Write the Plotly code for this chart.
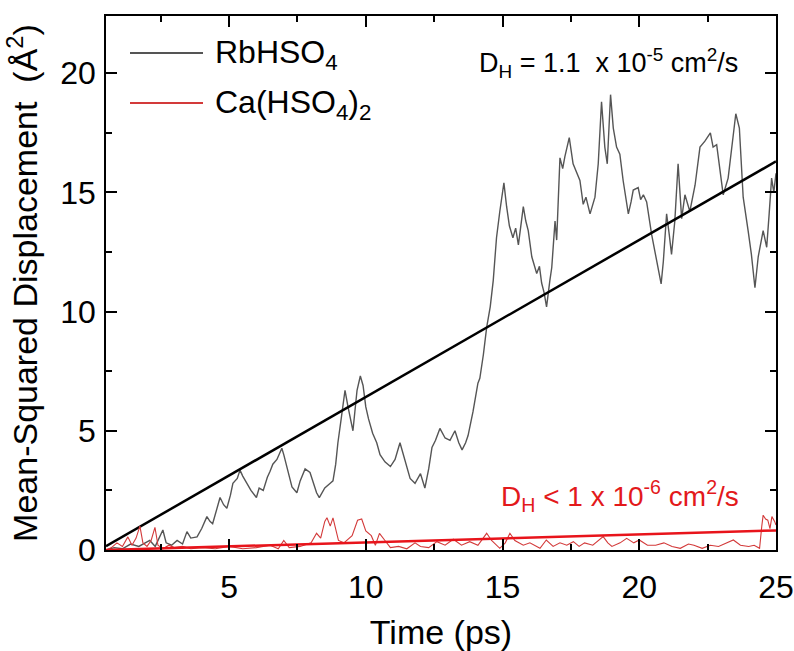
import plotly.graph_objects as go

# RbHSO4 mean-squared displacement
rb_t = [0.5, 0.8, 1.1, 1.4, 1.7, 2.0, 2.1, 2.3, 2.5, 2.58, 2.7, 2.9, 3.1, 3.3, 3.46, 3.6, 3.83, 4.0, 4.19, 4.3,
        4.4, 4.55, 4.67, 4.8, 4.92, 5.05, 5.14, 5.3, 5.4, 5.5, 5.66, 5.8, 6.0, 6.1, 6.25, 6.4, 6.5, 6.6, 6.75, 6.93,
        7.0, 7.1, 7.2, 7.3, 7.48, 7.6, 7.78, 7.96, 8.1, 8.2, 8.3, 8.5, 8.7, 8.8, 8.9, 8.98, 9.1, 9.24, 9.35, 9.53,
        9.6, 9.68, 9.8, 9.9, 10.0, 10.1, 10.25, 10.4, 10.52, 10.7, 10.9, 11.07, 11.25, 11.4, 11.62, 11.8, 12.0, 12.16, 12.3, 12.42,
        12.55, 12.71, 12.9, 13.08, 13.26, 13.4, 13.52, 13.65, 13.74, 13.92, 14.0, 14.1, 14.17, 14.3, 14.42, 14.55, 14.66, 14.78, 14.9, 15.05,
        15.15, 15.25, 15.38, 15.48, 15.58, 15.68, 15.76, 15.85, 15.94, 16.07, 16.15, 16.25, 16.35, 16.43, 16.52, 16.61, 16.73, 16.8, 16.92, 16.98,
        17.1, 17.2, 17.28, 17.44, 17.58, 17.7, 17.83, 17.95, 18.05, 18.2, 18.38, 18.5, 18.62, 18.74, 18.83, 18.95, 19.05, 19.17, 19.29, 19.41,
        19.6, 19.7, 19.78, 19.96, 20.05, 20.15, 20.27, 20.45, 20.57, 20.7, 20.8, 20.88, 21.0, 21.1, 21.18, 21.3, 21.42, 21.55, 21.67, 21.85,
        22.04, 22.22, 22.4, 22.6, 22.7, 22.83, 22.95, 23.07, 23.25, 23.38, 23.53, 23.66, 23.8, 23.98, 24.1, 24.23, 24.35, 24.53, 24.66, 24.75,
        24.84, 24.92, 25.0]
rb_msd = [0.0, 0.1, 0.05, 0.25, 0.15, 0.35, 0.4, 0.15, 0.6, 0.84, 0.3, 0.2, 0.4, 0.25, 0.77, 0.5, 0.55, 0.9, 1.4, 1.2,
          1.1, 1.7, 2.2, 1.9, 1.75, 2.3, 2.8, 3.0, 3.35, 3.1, 2.8, 2.5, 2.2, 2.6, 2.5, 3.05, 3.3, 3.6, 3.8, 4.27,
          4.0, 3.6, 3.1, 2.65, 2.4, 2.9, 3.4, 3.25, 2.8, 2.4, 2.2, 2.6, 2.8, 2.9, 3.6, 4.5, 5.5, 6.7, 6.0, 5.0,
          5.8, 6.7, 7.3, 6.9, 6.0, 5.5, 4.9, 4.5, 4.0, 3.7, 3.5, 3.8, 4.5, 3.9, 3.0, 2.8, 3.2, 2.6, 3.4, 4.3,
          4.6, 5.1, 4.7, 4.6, 5.0, 4.5, 4.2, 4.5, 4.8, 5.8, 6.3, 7.0, 7.2, 8.2, 9.34, 10.2, 11.3, 13.1, 14.2, 15.4,
          14.4, 13.6, 13.1, 13.5, 12.8, 13.6, 14.4, 13.8, 13.4, 12.3, 12.0, 11.6, 11.9, 11.2, 10.8, 10.2, 11.3, 11.85, 13.8, 13.0,
          16.45, 16.0, 16.5, 17.3, 16.2, 15.9, 15.5, 14.5, 14.8, 14.1, 14.8, 16.2, 18.8, 16.9, 16.2, 19.1, 17.7, 16.9, 16.6, 15.5,
          14.1, 14.6, 15.1, 15.2, 14.7, 14.9, 14.6, 13.25, 12.55, 11.85, 11.16, 12.1, 14.1, 13.2, 12.4, 13.8, 16.2, 13.9, 14.9, 14.2,
          15.3, 16.9, 17.15, 17.5, 16.9, 17.0, 16.0, 14.9, 15.6, 16.9, 18.3, 17.7, 14.8, 13.4, 12.4, 11.0, 12.3, 13.4, 12.7, 14.1,
          15.6, 15.0, 15.8]

# Ca(HSO4)2 mean-squared displacement
ca_t = [0.5, 0.7, 0.9, 1.1, 1.3, 1.45, 1.6, 1.74, 1.85, 2.0, 2.15, 2.29, 2.4, 2.58, 2.8, 3.0, 3.3, 3.6, 4.0, 4.5,
        5.0, 5.5, 6.0, 6.5, 6.8, 7.0, 7.2, 7.6, 8.0, 8.2, 8.35, 8.5, 8.58, 8.7, 8.8, 8.9, 9.0, 9.2, 9.5, 9.7,
        9.85, 10.0, 10.2, 10.35, 10.5, 10.7, 10.9, 11.2, 11.5, 11.8, 12.0, 12.3, 12.6, 12.9, 13.2, 13.5, 13.8, 14.1, 14.42, 14.6,
        14.9, 15.1, 15.27, 15.45, 15.76, 16.0, 16.37, 16.6, 16.85, 17.1, 17.35, 17.59, 17.8, 18.0, 18.3, 18.68, 18.85, 19.0, 19.3, 19.54,
        19.8, 20.0, 20.3, 20.6, 20.9, 21.2, 21.5, 21.8, 22.0, 22.3, 22.6, 22.9, 23.2, 23.44, 23.7, 24.0, 24.2, 24.4, 24.48, 24.53,
        24.62, 24.7, 24.78, 24.85, 24.95, 25.0]
ca_msd = [0.0, 0.1, 0.3, 0.15, 0.55, 0.2, 0.5, 1.0, 0.3, 0.15, 0.4, 0.95, 0.2, 0.05, 0.2, 0.1, 0.15, 0.05, 0.1, 0.05,
          0.15, 0.05, 0.1, 0.2, 0.05, 0.4, 0.1, 0.15, 0.3, 0.7, 0.5, 1.2, 1.35, 1.0, 1.35, 0.9, 0.4, 0.3, 0.6, 1.25,
          1.3, 0.8, 0.6, 0.2, 0.7, 0.4, 0.1, 0.15, 0.05, 0.3, 0.15, 0.1, 0.35, 0.2, 0.45, 0.2, 0.35, 0.2, 0.7, 0.4,
          0.07, 0.3, 0.7, 0.4, 0.2, 0.3, 0.07, 0.42, 0.15, 0.3, 0.2, 0.35, 0.15, 0.3, 0.2, 0.56, 0.3, 0.15, 0.3, 0.49,
          0.3, 0.42, 0.2, 0.2, 0.3, 0.15, 0.07, 0.25, 0.2, 0.07, 0.2, 0.15, 0.3, 0.42, 0.2, 0.15, 0.2, 0.07, 1.0, 1.46,
          1.3, 1.25, 0.9, 1.4, 1.2, 1.05]

# Linear fits
fit_t = [0.5, 25.0]
rb_fit = [0.16, 16.3]
ca_fit = [0.0, 0.82]

legend_names = ["RbHSO<sub>4</sub>", "Ca(HSO<sub>4</sub>)<sub>2</sub>"]
ann_rb = "D<sub>H</sub> = 1.1  x 10<sup>-5</sup> cm<sup>2</sup>/s"
ann_ca = "D<sub>H</sub> < 1 x 10<sup>-6</sup> cm<sup>2</sup>/s"

GRAY = "#555555"
RED_DATA = "#d33a3a"
RED_FIT = "#e8141b"
FONT = "Liberation Sans, Arial, sans-serif"

fig = go.Figure()
fig.add_trace(go.Scatter(x=rb_t, y=rb_msd, mode="lines", line=dict(color=GRAY, width=1.4),
                         name="RbHSO4", showlegend=False))
fig.add_trace(go.Scatter(x=fit_t, y=rb_fit, mode="lines", line=dict(color="black", width=2.5),
                         showlegend=False))
fig.add_trace(go.Scatter(x=ca_t, y=ca_msd, mode="lines", line=dict(color=RED_DATA, width=1.1),
                         name="Ca(HSO4)2", showlegend=False))
fig.add_trace(go.Scatter(x=fit_t, y=ca_fit, mode="lines", line=dict(color=RED_FIT, width=2.5),
                         showlegend=False))

L, R, T, B = 106, 18, 16, 101
W, H = 794, 651
pw, ph = W - L - R, H - T - B

def px(xp):
    return (xp - L) / pw

def py(yp):
    return (H - B - yp) / ph

# manual legend
for i, (name, col) in enumerate(zip(legend_names, [GRAY, RED_DATA])):
    yc = 53 + 50 * i
    fig.add_shape(type="line", xref="paper", yref="paper", x0=px(130), x1=px(203), y0=py(yc), y1=py(yc),
                  line=dict(color=col, width=2))
    fig.add_annotation(text=name, xref="paper", yref="paper", x=px(213), y=py(yc + 2), xanchor="left",
                       yanchor="middle", showarrow=False, font=dict(family=FONT, size=32, color="black"))

fig.add_annotation(text=ann_rb, xref="paper", yref="paper", x=px(740), y=py(63), xanchor="right",
                   yanchor="middle", showarrow=False, font=dict(family=FONT, size=27, color="black"))
fig.add_annotation(text=ann_ca, xref="paper", yref="paper", x=px(741), y=py(496), xanchor="right",
                   yanchor="middle", showarrow=False, font=dict(family=FONT, size=28, color="#e3191b"))

axis_common = dict(showline=True, linecolor="black", linewidth=1.5, mirror="allticks", ticks="inside",
                   ticklen=11, tickwidth=1.5, tickcolor="black", showgrid=False, zeroline=False,
                   tickfont=dict(family=FONT, size=32, color="black"), automargin=False)

fig.update_xaxes(range=[0.5, 25], tick0=0, dtick=5, ticklabelstandoff=8,
                 minor=dict(dtick=2.5, ticks="inside", ticklen=6, tickwidth=1.5, tickcolor="black", showgrid=False),
                 title=dict(text="Time (ps)", font=dict(family=FONT, size=34, color="black"), standoff=18),
                 **axis_common)
fig.update_yaxes(range=[0, 22.4], tick0=0, dtick=5, ticklabelstandoff=2,
                 minor=dict(dtick=2.5, ticks="inside", ticklen=6, tickwidth=1.5, tickcolor="black", showgrid=False),
                 title=dict(text="Mean-Squared Displacement  (Å<sup>2</sup>)",
                            font=dict(family=FONT, size=34, color="black"), standoff=12),
                 **axis_common)

fig.update_layout(width=W, height=H, margin=dict(l=L, r=R, t=T, b=B),
                  paper_bgcolor="white", plot_bgcolor="white", showlegend=False,
                  font=dict(family=FONT, color="black"))

fig.write_html("out.html")
